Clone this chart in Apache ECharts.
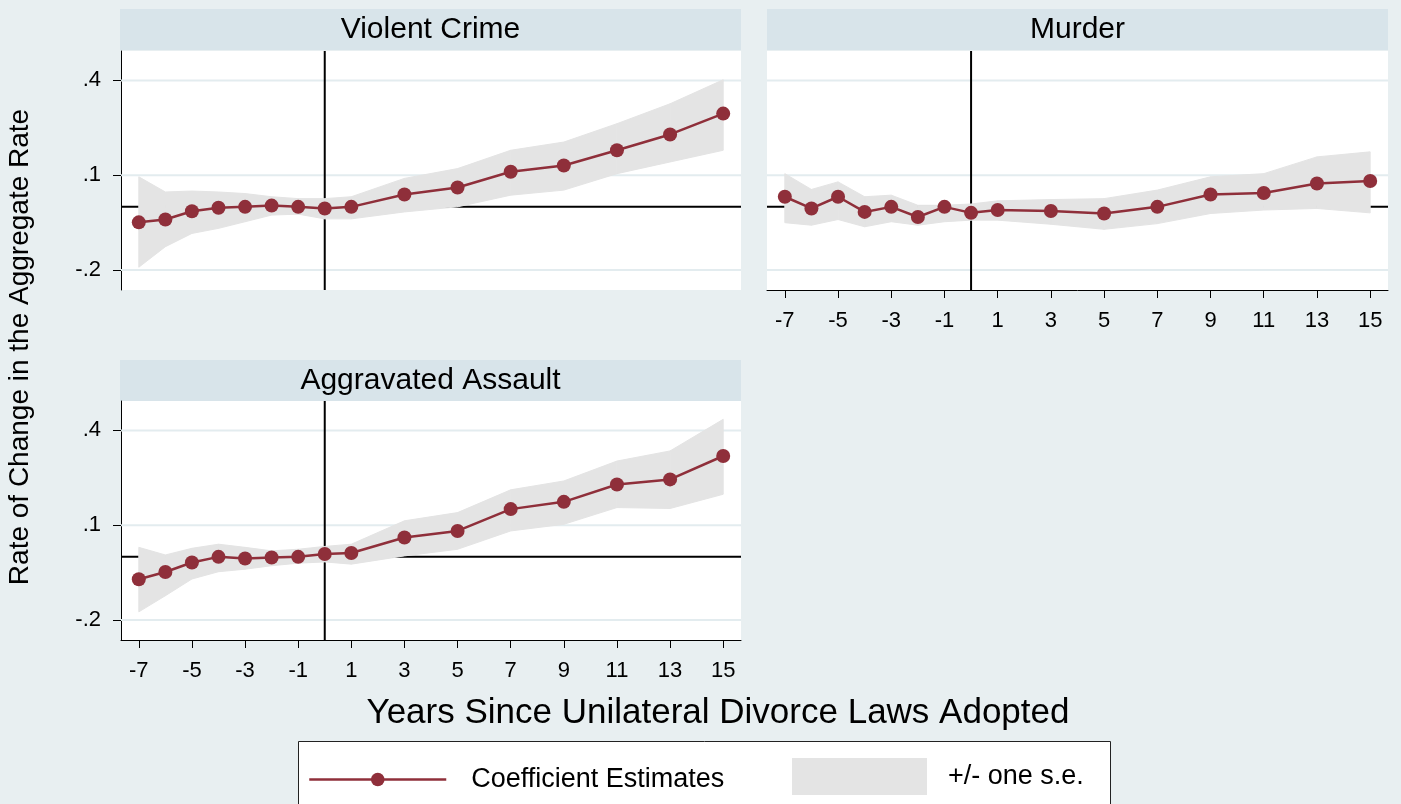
<!DOCTYPE html>
<html><head><meta charset="utf-8">
<script src="https://cdn.jsdelivr.net/npm/echarts@6/dist/echarts.min.js"></script>
<style>html,body{margin:0;padding:0;background:#e8eff1;}#c{width:1401px;height:804px;}</style>
</head><body><div id="c"></div>
<script>
const years = [-7,-6,-5,-4,-3,-2,-1,0,1,3,5,7,9,11,13,15];
const xTicks = [-7,-5,-3,-1,1,3,5,7,9,11,13,15];
const yTicks = [-0.2,0.1,0.4];
const yTickLabels = ['-.2','.1','.4'];
const panelTitles = ['Violent Crime','Murder','Aggravated Assault'];

const violentCoef  = [-0.049,-0.040,-0.014,-0.003,0.000,0.004,0.000,-0.005,0.000,0.039,0.061,0.111,0.131,0.179,0.229,0.295];
const violentUpper = [0.095,0.047,0.050,0.047,0.042,0.032,0.026,0.026,0.032,0.090,0.121,0.179,0.205,0.263,0.326,0.402];
const violentLower = [-0.191,-0.126,-0.084,-0.068,-0.047,-0.026,-0.023,-0.038,-0.038,-0.016,0.000,0.037,0.053,0.105,0.142,0.179];

const murderCoef  = [0.032,-0.005,0.032,-0.016,0.000,-0.032,0.000,-0.019,-0.010,-0.013,-0.021,0.000,0.039,0.044,0.074,0.082];
const murderUpper = [0.105,0.055,0.079,0.032,0.037,0.005,0.005,0.009,0.019,0.023,0.026,0.053,0.095,0.105,0.158,0.174];
const murderLower = [-0.050,-0.058,-0.040,-0.063,-0.047,-0.058,-0.047,-0.042,-0.042,-0.055,-0.071,-0.053,-0.021,-0.010,-0.005,-0.019];

const assaultCoef  = [-0.071,-0.048,-0.018,0.000,-0.005,-0.002,0.000,0.009,0.012,0.061,0.082,0.151,0.174,0.229,0.245,0.319];
const assaultUpper = [0.030,0.006,0.027,0.040,0.030,0.019,0.024,0.033,0.040,0.114,0.140,0.212,0.240,0.303,0.335,0.435];
const assaultLower = [-0.174,-0.123,-0.070,-0.047,-0.039,-0.028,-0.020,-0.016,-0.023,0.003,0.024,0.082,0.103,0.156,0.153,0.198];

const coefs = [violentCoef, murderCoef, assaultCoef];
const uppers = [violentUpper, murderUpper, assaultUpper];
const lowers = [violentLower, murderLower, assaultLower];

const X_MIN = -7.67, X_MAX = 15.67, Y_MIN = -0.263, Y_MAX = 0.493;
const FONT = "'Liberation Sans', Arial, sans-serif";
const RED = '#8f2f3a', BAND = '#e4e4e4', GRIDC = '#e3ecef', STRIP = '#d8e4ea';

const grids = [
  {left:121, top:51, width:620, height:239},
  {left:767, top:51, width:621, height:239},
  {left:121, top:401, width:620, height:239}
];
const showX = [false, true, true];
const showY = [true, false, true];

function bandItem(params, api) {
  const p1 = api.coord([api.value(0), api.value(1)]);
  const p2 = api.coord([api.value(3), api.value(4)]);
  const p3 = api.coord([api.value(3), api.value(5)]);
  const p4 = api.coord([api.value(0), api.value(2)]);
  return {type:'polygon', shape:{points:[p1,p2,p3,p4]},
    style:{fill:BAND, stroke:BAND, lineWidth:1}};
}

const xAxes = [], yAxes = [], series = [];
grids.forEach((g, i) => {
  g.show = true; g.backgroundColor = '#ffffff'; g.borderWidth = 0;
  xAxes.push({
    gridIndex:i, type:'value', min:X_MIN, max:X_MAX,
    axisLine:{show:showX[i], onZero:false, lineStyle:{color:'#000', width:1}},
    axisTick:{show:showX[i], customValues:xTicks, length:8, lineStyle:{color:'#000', width:1}},
    axisLabel:{show:showX[i], customValues:xTicks, formatter:v=>String(v), color:'#000', fontSize:22, fontFamily:FONT, margin:20},
    splitLine:{show:false}
  });
  yAxes.push({
    gridIndex:i, type:'value', min:Y_MIN, max:Y_MAX,
    axisLine:{show:showY[i], onZero:false, lineStyle:{color:'#000', width:1}},
    axisTick:{show:showY[i], customValues:yTicks, length:8, lineStyle:{color:'#000', width:1}},
    axisLabel:{show:showY[i], customValues:yTicks, color:'#000', fontSize:22, fontFamily:FONT, margin:20,
      formatter:v=>{const k=yTicks.findIndex(t=>Math.abs(t-v)<1e-6); return k>=0?yTickLabels[k]:'';}},
    splitLine:{show:false}
  });
  const common = {xAxisIndex:i, yAxisIndex:i, type:'line', silent:true, symbol:'none', animation:false};
  yTicks.forEach(t => series.push(Object.assign({}, common, {
    z:0, data:[[X_MIN,t],[X_MAX,t]], lineStyle:{color:GRIDC, width:2}
  })));
  series.push(Object.assign({}, common, {z:1, data:[[X_MIN,0],[X_MAX,0]], lineStyle:{color:'#000', width:2}}));
  series.push(Object.assign({}, common, {z:1, data:[[0,Y_MIN],[0,Y_MAX]], lineStyle:{color:'#000', width:2}}));
  const segs = [];
  for (let k = 0; k < years.length - 1; k++) {
    segs.push([years[k], lowers[i][k], uppers[i][k], years[k+1], lowers[i][k+1], uppers[i][k+1]]);
  }
  series.push({
    name:'+/- one s.e.', type:'custom', xAxisIndex:i, yAxisIndex:i, z:2, silent:true, animation:false,
    color:BAND, itemStyle:{color:BAND}, renderItem:bandItem, data:segs,
    encode:{x:[0,3], y:[1,2,4,5]}
  });
  series.push({
    name:'Coefficient Estimates', type:'line', xAxisIndex:i, yAxisIndex:i, z:3, silent:true, animation:false,
    color:RED, data:years.map((x,k)=>[x, coefs[i][k]]),
    lineStyle:{color:RED, width:2.5}, itemStyle:{color:RED},
    symbol:'circle', symbolSize:14, showSymbol:true
  });
});

const strips = [
  {x:120, y:9, w:621, h:41},
  {x:767, y:9, w:621, h:41},
  {x:120, y:360, w:621, h:41}
];
const graphic = [];
strips.forEach((s, i) => {
  graphic.push({type:'rect', shape:{x:s.x, y:s.y, width:s.w, height:s.h}, style:{fill:STRIP}, silent:true});
  graphic.push({type:'text', x:s.x+s.w/2, y:s.y+s.h/2, silent:true,
    style:{text:panelTitles[i], font:'30px '+FONT, fill:'#000', align:'center', verticalAlign:'middle'}});
});
graphic.push({type:'text', x:20, y:347, rotation:Math.PI/2, silent:true,
  style:{text:'Rate of Change in the Aggregate Rate', font:'28px '+FONT, fill:'#000', align:'center', verticalAlign:'middle'}});
graphic.push({type:'text', x:718, y:713, silent:true,
  style:{text:'Years Since Unilateral Divorce Laws Adopted', font:'35px '+FONT, fill:'#000', align:'center', verticalAlign:'middle'}});
graphic.push({type:'rect', shape:{x:298.5, y:741.5, width:812, height:90}, style:{fill:'#ffffff', stroke:'#222', lineWidth:1}, silent:true, z:-1});

const chart = echarts.init(document.getElementById('c'), null, {renderer:'canvas'});
chart.setOption({
  backgroundColor:'#e8eff1',
  animation:false,
  grid:grids, xAxis:xAxes, yAxis:yAxes, series:series,
  graphic:graphic,
  legend:[
    {data:['Coefficient Estimates'], left:308, top:766, padding:0, itemWidth:137, itemHeight:17,
     lineStyle:{width:2.5}, textStyle:{fontSize:27, fontFamily:FONT, color:'#000', padding:[0,0,0,20]}, selectedMode:false},
    {data:[{name:'+/- one s.e.', icon:'rect'}], left:792, top:758, padding:0, itemWidth:135, itemHeight:37,
     itemStyle:{color:BAND}, textStyle:{fontSize:27, fontFamily:FONT, color:'#000', padding:[3,0,0,16]}, selectedMode:false}
  ]
});
</script></body></html>
